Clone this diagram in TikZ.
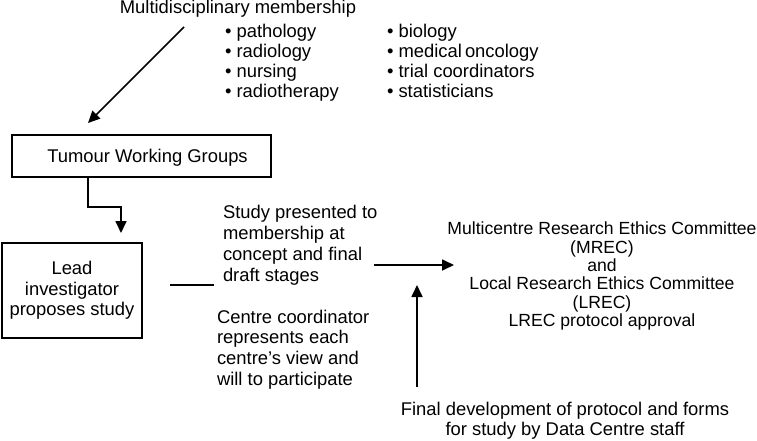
\documentclass[tikz,border=0pt]{standalone}
\usepackage{fontspec}
\setmainfont{Liberation Sans}
\usetikzlibrary{arrows.meta}
\newcommand{\fsA}{\fontsize{18.4}{20.5}\selectfont}
\newcommand{\fsB}{\fontsize{17.6}{18.4}\selectfont}
\tikzset{
  x=1pt, y=-1pt,
  txt/.style={inner sep=0pt, outer sep=0pt, font=\fsA},
  boxnode/.style={draw, line width=1.5pt, inner sep=0pt, font=\fsA, align=center},
  conn/.style={line width=1.7pt},
  arr/.style={conn, -{Triangle[length=12pt,width=11pt]}}
}
\begin{document}
\begin{tikzpicture}
\useasboundingbox (0,0) rectangle (757,441);
% title and lists
\node[txt, anchor=north] (title) at (238,-0.3) {Multidisciplinary membership};
\node[txt, anchor=north west, align=left, font=\fontsize{18.4}{20}\selectfont] (listA) at (225,23.7)
  {\textbullet\ pathology\\ \textbullet\ radiology\\ \textbullet\ nursing\\ \textbullet\ radiotherapy};
\node[txt, anchor=north west, align=left, font=\fontsize{18.4}{20}\selectfont] (listB) at (387,23.7)
  {\textbullet\ biology\\ \textbullet\ medical\,oncology\\ \textbullet\ trial coordinators\\ \textbullet\ statisticians};
% boxes
\node[boxnode, minimum width=259pt, minimum height=42pt, text height=13.3pt, text depth=0pt] (twg) at (141.5,156)
  {\hspace*{12pt}Tumour Working Groups};
\node[boxnode, minimum width=140pt, minimum height=95pt] (lead) at (72,290.5)
  {Lead\\investigator\\proposes study};
% middle texts
\node[txt, anchor=north west, align=left, font=\fontsize{18.4}{21.3}\selectfont] (study) at (223,204.7)
  {Study presented to\\membership at\\concept and final\\draft stages};
\node[txt, anchor=north west, align=left, font=\fontsize{18.4}{20.8}\selectfont] (centre) at (217,309.7)
  {Centre coordinator\\represents each\\centre’s view and\\will to participate};
% right block
\node[txt, anchor=north, align=center, font=\fsB] (ethics) at (602,221.9)
  {Multicentre Research Ethics Committee\\(MREC)\\and\\Local Research Ethics Committee\\(LREC)\\LREC protocol approval};
\node[txt, anchor=north, align=center, font=\fontsize{18.4}{20}\selectfont] (final) at (565,401.7)
  {Final development of protocol and forms\\for study by Data Centre staff};
% connector end points
\coordinate (dA) at (184,27);
\coordinate (dB) at (88,123);
\coordinate (eA) at (88,177);
\coordinate (eB) at (88,207);
\coordinate (eC) at (121,207);
\coordinate (eD) at (121,233);
\coordinate (lA) at (170,285);
\coordinate (lB) at (214,285);
\coordinate (hA) at (374,265);
\coordinate (hB) at (454,265);
\coordinate (vA) at (417,387);
\coordinate (vB) at (417,285);
% connectors
\draw[arr] (dA) -- (dB);
\draw[arr] (eA) -- (eB) -- (eC) -- (eD);
\draw[conn] (lA) -- (lB);
\draw[arr] (hA) -- (hB);
\draw[arr] (vA) -- (vB);
\end{tikzpicture}
\end{document}
